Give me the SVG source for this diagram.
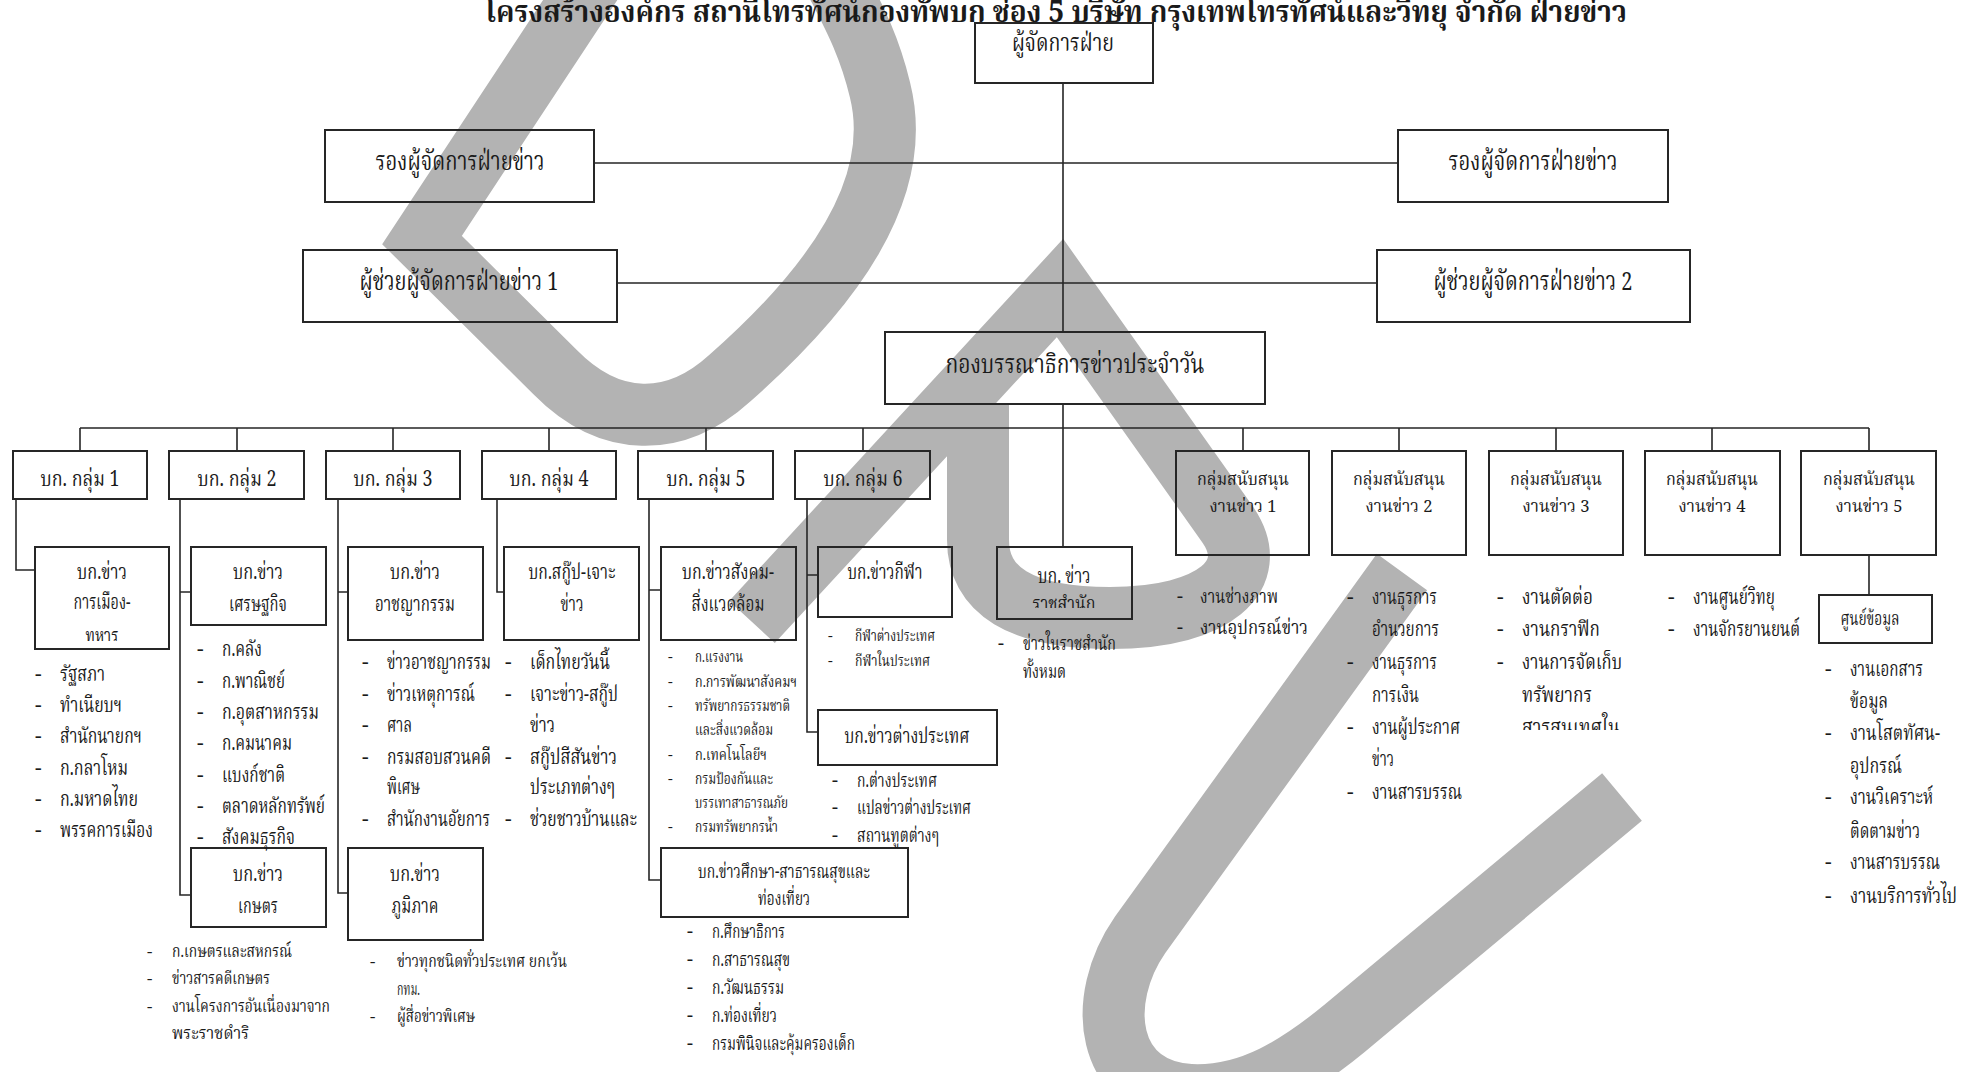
<svg xmlns="http://www.w3.org/2000/svg" width="1977" height="1072" viewBox="0 0 1977 1072">
<style>
.t{font-family:"Noto Serif Thai","Noto Sans Thai","Liberation Serif","DejaVu Serif",serif;fill:#1a1a1a}
.c{text-anchor:middle}
.b{font-weight:bold}
.bx{fill:none;stroke:#262626;stroke-width:2}
.ln{fill:none;stroke:#262626;stroke-width:1.6}
.wm{fill:none;stroke:#b3b3b3;stroke-width:62;stroke-linejoin:miter;stroke-miterlimit:10;stroke-linecap:butt}
.s26{font-size:26px}.s24{font-size:24px}.s21{font-size:21px}.s19{font-size:19px}.s17{font-size:17px}.s15{font-size:15px}
</style>
<defs>
<clipPath id="cpA"><rect x="0" y="0" width="400" height="641"/></clipPath>
<clipPath id="cpB"><rect x="900" y="0" width="400" height="608"/></clipPath>
<clipPath id="cpC"><rect x="1400" y="0" width="400" height="730"/></clipPath>
</defs>
<rect x="0" y="0" width="1977" height="1072" fill="#ffffff"/>
<g id="watermark">
<path class="wm" d="M600,-30 L422,240 L555,372 C610,428 675,428 730,378 C830,290 905,190 880,90 C868,40 850,10 830,-30"/>
<path class="wm" d="M752,622 L1060,288 L1228,525 C1262,575 1215,618 1110,618 C1020,618 978,590 978,540 L978,405"/>
<path class="wm" d="M1402,572 L1140,935 C1095,1000 1105,1090 1190,1095 C1250,1098 1300,1065 1345,1028 L1622,797"/>
</g>
<g id="title"><text class="t c b" x="1056" y="22" font-size="30" textLength="1142" lengthAdjust="spacingAndGlyphs">โครงสร้างองค์กร สถานีโทรทัศน์กองทัพบก ช่อง 5 บริษัท กรุงเทพโทรทัศน์และวิทยุ  จำกัด ฝ่ายข่าว</text></g>
<g id="connectors">
<path class="ln" d="M1063,83 V332 M1063,404 V547 M594,163 H1398 M617,283 H1377 M80,428 H1869"/>
<path class="ln" d="M80,428 V451 M237,428 V451 M393,428 V451 M549,428 V451 M706,428 V451 M863,428 V451 M1243,428 V451 M1399,428 V451 M1556,428 V451 M1712,428 V451 M1869,428 V451"/>
<path class="ln" d="M16,499 V570 H35 M180,499 V895 H191 M180,592 H191 M338,499 V893 H348 M338,592 H348 M497,499 V592 H504 M649,499 V880 H661 M649,590 H661 M807,499 V732 H818 M807,575 H818 M1869,555 V595"/>
</g>
<g id="n-manager"><rect class="bx" x="975" y="23" width="178" height="60" style="fill:#ffffff"/><text class="t c s24" x="1063" y="51" textLength="102" lengthAdjust="spacingAndGlyphs">ผู้จัดการฝ่าย</text></g>
<g id="n-deputy1"><rect class="bx" x="325" y="130" width="269" height="72"/><text class="t c s26" x="460" y="170" textLength="169" lengthAdjust="spacingAndGlyphs">รองผู้จัดการฝ่ายข่าว</text></g>
<g id="n-deputy2"><rect class="bx" x="1398" y="130" width="270" height="72"/><text class="t c s26" x="1533" y="170" textLength="169" lengthAdjust="spacingAndGlyphs">รองผู้จัดการฝ่ายข่าว</text></g>
<g id="n-asst1"><rect class="bx" x="303" y="250" width="314" height="72"/><text class="t c s26" x="459" y="290" textLength="199" lengthAdjust="spacingAndGlyphs">ผู้ช่วยผู้จัดการฝ่ายข่าว 1</text></g>
<g id="n-asst2"><rect class="bx" x="1377" y="250" width="313" height="72"/><text class="t c s26" x="1533" y="290" textLength="199" lengthAdjust="spacingAndGlyphs">ผู้ช่วยผู้จัดการฝ่ายข่าว 2</text></g>
<g id="n-editorial"><rect class="bx" x="885" y="332" width="380" height="72"/><text class="t c s26" x="1075" y="373" textLength="259" lengthAdjust="spacingAndGlyphs">กองบรรณาธิการข่าวประจำวัน</text></g>
<g id="n-g1"><rect class="bx" x="13" y="451" width="134" height="48"/><text class="t c s21" x="80" y="486" textLength="79" lengthAdjust="spacingAndGlyphs">บก. กลุ่ม 1</text></g>
<g id="n-g2"><rect class="bx" x="169" y="451" width="135" height="48"/><text class="t c s21" x="237" y="486" textLength="79" lengthAdjust="spacingAndGlyphs">บก. กลุ่ม 2</text></g>
<g id="n-g3"><rect class="bx" x="326" y="451" width="134" height="48"/><text class="t c s21" x="393" y="486" textLength="79" lengthAdjust="spacingAndGlyphs">บก. กลุ่ม 3</text></g>
<g id="n-g4"><rect class="bx" x="482" y="451" width="134" height="48"/><text class="t c s21" x="549" y="486" textLength="79" lengthAdjust="spacingAndGlyphs">บก. กลุ่ม 4</text></g>
<g id="n-g5"><rect class="bx" x="638" y="451" width="135" height="48"/><text class="t c s21" x="706" y="486" textLength="79" lengthAdjust="spacingAndGlyphs">บก. กลุ่ม 5</text></g>
<g id="n-g6"><rect class="bx" x="795" y="451" width="135" height="48"/><text class="t c s21" x="863" y="486" textLength="79" lengthAdjust="spacingAndGlyphs">บก. กลุ่ม 6</text></g>
<g id="n-s1"><rect class="bx" x="1176" y="451" width="133" height="104"/><text class="t c s17" x="1243" y="485" textLength="92" lengthAdjust="spacingAndGlyphs">กลุ่มสนับสนุน</text><text class="t c s17" x="1243" y="512" textLength="67" lengthAdjust="spacingAndGlyphs">งานข่าว 1</text></g>
<g id="n-s2"><rect class="bx" x="1332" y="451" width="134" height="104"/><text class="t c s17" x="1399" y="485" textLength="92" lengthAdjust="spacingAndGlyphs">กลุ่มสนับสนุน</text><text class="t c s17" x="1399" y="512" textLength="67" lengthAdjust="spacingAndGlyphs">งานข่าว 2</text></g>
<g id="n-s3"><rect class="bx" x="1489" y="451" width="134" height="104"/><text class="t c s17" x="1556" y="485" textLength="92" lengthAdjust="spacingAndGlyphs">กลุ่มสนับสนุน</text><text class="t c s17" x="1556" y="512" textLength="67" lengthAdjust="spacingAndGlyphs">งานข่าว 3</text></g>
<g id="n-s4"><rect class="bx" x="1645" y="451" width="135" height="104"/><text class="t c s17" x="1712" y="485" textLength="92" lengthAdjust="spacingAndGlyphs">กลุ่มสนับสนุน</text><text class="t c s17" x="1712" y="512" textLength="67" lengthAdjust="spacingAndGlyphs">งานข่าว 4</text></g>
<g id="n-s5"><rect class="bx" x="1801" y="451" width="135" height="104"/><text class="t c s17" x="1869" y="485" textLength="92" lengthAdjust="spacingAndGlyphs">กลุ่มสนับสนุน</text><text class="t c s17" x="1869" y="512" textLength="67" lengthAdjust="spacingAndGlyphs">งานข่าว 5</text></g>
<g id="n-politics"><rect class="bx" x="35" y="547" width="134" height="102"/><text class="t c s21" x="102" y="579" textLength="50" lengthAdjust="spacingAndGlyphs">บก.ข่าว</text><text class="t c s21" x="102" y="609" textLength="57" lengthAdjust="spacingAndGlyphs">การเมือง-</text><text class="t c s21" x="102" y="643" textLength="33" lengthAdjust="spacingAndGlyphs" clip-path="url(#cpA)">ทหาร</text></g>
<g id="n-economy"><rect class="bx" x="191" y="547" width="135" height="78"/><text class="t c s21" x="258" y="579" textLength="50" lengthAdjust="spacingAndGlyphs">บก.ข่าว</text><text class="t c s21" x="258" y="611" textLength="58" lengthAdjust="spacingAndGlyphs">เศรษฐกิจ</text></g>
<g id="n-agri"><rect class="bx" x="191" y="848" width="135" height="79"/><text class="t c s21" x="258" y="881" textLength="50" lengthAdjust="spacingAndGlyphs">บก.ข่าว</text><text class="t c s21" x="258" y="913" textLength="40" lengthAdjust="spacingAndGlyphs">เกษตร</text></g>
<g id="n-crime"><rect class="bx" x="348" y="547" width="135" height="93"/><text class="t c s21" x="415" y="579" textLength="50" lengthAdjust="spacingAndGlyphs">บก.ข่าว</text><text class="t c s21" x="415" y="611" textLength="80" lengthAdjust="spacingAndGlyphs">อาชญากรรม</text></g>
<g id="n-scoop"><rect class="bx" x="504" y="547" width="135" height="93"/><text class="t c s21" x="572" y="579" textLength="87" lengthAdjust="spacingAndGlyphs">บก.สกู๊ป-เจาะ</text><text class="t c s21" x="572" y="611" textLength="23" lengthAdjust="spacingAndGlyphs">ข่าว</text></g>
<g id="n-region"><rect class="bx" x="348" y="848" width="135" height="92"/><text class="t c s21" x="415" y="881" textLength="50" lengthAdjust="spacingAndGlyphs">บก.ข่าว</text><text class="t c s21" x="415" y="913" textLength="47" lengthAdjust="spacingAndGlyphs">ภูมิภาค</text></g>
<g id="n-social"><rect class="bx" x="661" y="547" width="135" height="93"/><text class="t c s21" x="728" y="579" textLength="92" lengthAdjust="spacingAndGlyphs">บก.ข่าวสังคม-</text><text class="t c s21" x="728" y="611" textLength="73" lengthAdjust="spacingAndGlyphs">สิ่งแวดล้อม</text></g>
<g id="n-edu"><rect class="bx" x="661" y="848" width="247" height="69"/><text class="t c s19" x="784" y="878" textLength="172" lengthAdjust="spacingAndGlyphs">บก.ข่าวศึกษา-สาธารณสุขและ</text><text class="t c s19" x="784" y="905" textLength="52" lengthAdjust="spacingAndGlyphs">ท่องเที่ยว</text></g>
<g id="n-sport"><rect class="bx" x="818" y="547" width="134" height="70"/><text class="t c s21" x="885" y="579" textLength="75" lengthAdjust="spacingAndGlyphs">บก.ข่าวกีฬา</text></g>
<g id="n-foreign"><rect class="bx" x="818" y="710" width="179" height="55"/><text class="t c s21" x="907" y="743" textLength="125" lengthAdjust="spacingAndGlyphs">บก.ข่าวต่างประเทศ</text></g>
<g id="n-royal"><rect class="bx" x="997" y="547" width="135" height="72"/><text class="t c s21" x="1064" y="583" textLength="53" lengthAdjust="spacingAndGlyphs">บก. ข่าว</text><text class="t c s19" x="1064" y="610" textLength="63" lengthAdjust="spacingAndGlyphs" clip-path="url(#cpB)">ราชสำนัก</text></g>
<g id="n-data"><rect class="bx" x="1819" y="595" width="113" height="48"/><text class="t c s19" x="1870" y="625" textLength="59" lengthAdjust="spacingAndGlyphs">ศูนย์ข้อมูล</text></g>
<g id="lists">
<g class="t s21">
<text x="35" y="681">-</text><text x="60" y="681" textLength="45" lengthAdjust="spacingAndGlyphs">รัฐสภา</text>
<text x="35" y="712">-</text><text x="60" y="712" textLength="62" lengthAdjust="spacingAndGlyphs">ทำเนียบฯ</text>
<text x="35" y="743">-</text><text x="60" y="743" textLength="82" lengthAdjust="spacingAndGlyphs">สำนักนายกฯ</text>
<text x="35" y="775">-</text><text x="60" y="775" textLength="68" lengthAdjust="spacingAndGlyphs">ก.กลาโหม</text>
<text x="35" y="806">-</text><text x="60" y="806" textLength="78" lengthAdjust="spacingAndGlyphs">ก.มหาดไทย</text>
<text x="35" y="837">-</text><text x="60" y="837" textLength="93" lengthAdjust="spacingAndGlyphs">พรรคการเมือง</text>
<text x="197" y="656">-</text><text x="222" y="656" textLength="40" lengthAdjust="spacingAndGlyphs">ก.คลัง</text>
<text x="197" y="688">-</text><text x="222" y="688" textLength="63" lengthAdjust="spacingAndGlyphs">ก.พาณิชย์</text>
<text x="197" y="719">-</text><text x="222" y="719" textLength="97" lengthAdjust="spacingAndGlyphs">ก.อุตสาหกรรม</text>
<text x="197" y="750">-</text><text x="222" y="750" textLength="70" lengthAdjust="spacingAndGlyphs">ก.คมนาคม</text>
<text x="197" y="782">-</text><text x="222" y="782" textLength="63" lengthAdjust="spacingAndGlyphs">แบงก์ชาติ</text>
<text x="197" y="813">-</text><text x="222" y="813" textLength="103" lengthAdjust="spacingAndGlyphs">ตลาดหลักทรัพย์</text>
<text x="197" y="844">-</text><text x="222" y="844" textLength="73" lengthAdjust="spacingAndGlyphs">สังคมธุรกิจ</text>
<text x="362" y="669">-</text><text x="387" y="669" textLength="104" lengthAdjust="spacingAndGlyphs">ข่าวอาชญากรรม</text>
<text x="362" y="701">-</text><text x="387" y="701" textLength="88" lengthAdjust="spacingAndGlyphs">ข่าวเหตุการณ์</text>
<text x="362" y="732">-</text><text x="387" y="732" textLength="25" lengthAdjust="spacingAndGlyphs">ศาล</text>
<text x="362" y="764">-</text><text x="387" y="764" textLength="104" lengthAdjust="spacingAndGlyphs">กรมสอบสวนคดี</text>
<text x="387" y="794" textLength="33" lengthAdjust="spacingAndGlyphs">พิเศษ</text>
<text x="362" y="826">-</text><text x="387" y="826" textLength="103" lengthAdjust="spacingAndGlyphs">สำนักงานอัยการ</text>
<text x="505" y="669">-</text><text x="530" y="669" textLength="80" lengthAdjust="spacingAndGlyphs">เด็กไทยวันนี้</text>
<text x="505" y="701">-</text><text x="530" y="701" textLength="88" lengthAdjust="spacingAndGlyphs">เจาะข่าว-สกู๊ป</text>
<text x="530" y="732" textLength="25" lengthAdjust="spacingAndGlyphs">ข่าว</text>
<text x="505" y="764">-</text><text x="530" y="764" textLength="87" lengthAdjust="spacingAndGlyphs">สกู๊ปสีสันข่าว</text>
<text x="530" y="794" textLength="85" lengthAdjust="spacingAndGlyphs">ประเภทต่างๆ</text>
<text x="505" y="826">-</text><text x="530" y="826" textLength="107" lengthAdjust="spacingAndGlyphs">ช่วยชาวบ้านและ</text>
<text x="1347" y="604">-</text><text x="1372" y="604" textLength="65" lengthAdjust="spacingAndGlyphs">งานธุรการ</text>
<text x="1372" y="636" textLength="67" lengthAdjust="spacingAndGlyphs">อำนวยการ</text>
<text x="1347" y="669">-</text><text x="1372" y="669" textLength="65" lengthAdjust="spacingAndGlyphs">งานธุรการ</text>
<text x="1372" y="702" textLength="47" lengthAdjust="spacingAndGlyphs">การเงิน</text>
<text x="1347" y="734">-</text><text x="1372" y="734" textLength="88" lengthAdjust="spacingAndGlyphs">งานผู้ประกาศ</text>
<text x="1372" y="766" textLength="22" lengthAdjust="spacingAndGlyphs">ข่าว</text>
<text x="1347" y="799">-</text><text x="1372" y="799" textLength="90" lengthAdjust="spacingAndGlyphs">งานสารบรรณ</text>
<text x="1497" y="604">-</text><text x="1522" y="604" textLength="71" lengthAdjust="spacingAndGlyphs">งานตัดต่อ</text>
<text x="1497" y="636">-</text><text x="1522" y="636" textLength="78" lengthAdjust="spacingAndGlyphs">งานกราฟิก</text>
<text x="1497" y="669">-</text><text x="1522" y="669" textLength="100" lengthAdjust="spacingAndGlyphs">งานการจัดเก็บ</text>
<text x="1522" y="702" textLength="70" lengthAdjust="spacingAndGlyphs">ทรัพยากร</text>
<text x="1522" y="734" textLength="98" lengthAdjust="spacingAndGlyphs" clip-path="url(#cpC)">สารสนเทศใน</text>
<text x="1668" y="604">-</text><text x="1693" y="604" textLength="82" lengthAdjust="spacingAndGlyphs">งานศูนย์วิทยุ</text>
<text x="1668" y="636">-</text><text x="1693" y="636" textLength="107" lengthAdjust="spacingAndGlyphs">งานจักรยานยนต์</text>
<text x="1825" y="676">-</text><text x="1850" y="676" textLength="73" lengthAdjust="spacingAndGlyphs">งานเอกสาร</text>
<text x="1850" y="708" textLength="38" lengthAdjust="spacingAndGlyphs">ข้อมูล</text>
<text x="1825" y="740">-</text><text x="1850" y="740" textLength="90" lengthAdjust="spacingAndGlyphs">งานโสตทัศน-</text>
<text x="1850" y="773" textLength="52" lengthAdjust="spacingAndGlyphs">อุปกรณ์</text>
<text x="1825" y="804">-</text><text x="1850" y="804" textLength="83" lengthAdjust="spacingAndGlyphs">งานวิเคราะห์</text>
<text x="1850" y="838" textLength="70" lengthAdjust="spacingAndGlyphs">ติดตามข่าว</text>
<text x="1825" y="869">-</text><text x="1850" y="869" textLength="90" lengthAdjust="spacingAndGlyphs">งานสารบรรณ</text>
<text x="1825" y="903">-</text><text x="1850" y="903" textLength="107" lengthAdjust="spacingAndGlyphs">งานบริการทั่วไป</text>
</g>
<g class="t s19">
<text x="832" y="787">-</text><text x="857" y="787" textLength="80" lengthAdjust="spacingAndGlyphs">ก.ต่างประเทศ</text>
<text x="832" y="814">-</text><text x="857" y="814" textLength="114" lengthAdjust="spacingAndGlyphs">แปลข่าวต่างประเทศ</text>
<text x="832" y="842">-</text><text x="857" y="842" textLength="82" lengthAdjust="spacingAndGlyphs">สถานทูตต่างๆ</text>
<text x="687" y="938">-</text><text x="712" y="938" textLength="73" lengthAdjust="spacingAndGlyphs">ก.ศึกษาธิการ</text>
<text x="687" y="966">-</text><text x="712" y="966" textLength="78" lengthAdjust="spacingAndGlyphs">ก.สาธารณสุข</text>
<text x="687" y="994">-</text><text x="712" y="994" textLength="72" lengthAdjust="spacingAndGlyphs">ก.วัฒนธรรม</text>
<text x="687" y="1022">-</text><text x="712" y="1022" textLength="65" lengthAdjust="spacingAndGlyphs">ก.ท่องเที่ยว</text>
<text x="687" y="1050">-</text><text x="712" y="1050" textLength="143" lengthAdjust="spacingAndGlyphs">กรมพินิจและคุ้มครองเด็ก</text>
<text x="998" y="650">-</text><text x="1023" y="650" textLength="93" lengthAdjust="spacingAndGlyphs">ข่าวในราชสำนัก</text>
<text x="1023" y="678" textLength="43" lengthAdjust="spacingAndGlyphs">ทั้งหมด</text>
<text x="1177" y="603">-</text><text x="1200" y="603" textLength="78" lengthAdjust="spacingAndGlyphs">งานช่างภาพ</text>
<text x="1177" y="634">-</text><text x="1200" y="634" textLength="108" lengthAdjust="spacingAndGlyphs">งานอุปกรณ์ข่าว</text>
</g>
<g class="t s17">
<text x="147" y="957">-</text><text x="172" y="957" textLength="120" lengthAdjust="spacingAndGlyphs">ก.เกษตรและสหกรณ์</text>
<text x="147" y="984">-</text><text x="172" y="984" textLength="98" lengthAdjust="spacingAndGlyphs">ข่าวสารคดีเกษตร</text>
<text x="147" y="1012">-</text><text x="172" y="1012" textLength="158" lengthAdjust="spacingAndGlyphs">งานโครงการอันเนื่องมาจาก</text>
<text x="172" y="1039" textLength="77" lengthAdjust="spacingAndGlyphs">พระราชดำริ</text>
<text x="370" y="967">-</text><text x="397" y="967" textLength="170" lengthAdjust="spacingAndGlyphs">ข่าวทุกชนิดทั่วประเทศ ยกเว้น</text>
<text x="397" y="995" textLength="23" lengthAdjust="spacingAndGlyphs">กทม.</text>
<text x="370" y="1022">-</text><text x="397" y="1022" textLength="78" lengthAdjust="spacingAndGlyphs">ผู้สื่อข่าวพิเศษ</text>
</g>
<g class="t s15">
<text x="668" y="662">-</text><text x="695" y="662" textLength="48" lengthAdjust="spacingAndGlyphs">ก.แรงงาน</text>
<text x="668" y="687">-</text><text x="695" y="687" textLength="102" lengthAdjust="spacingAndGlyphs">ก.การพัฒนาสังคมฯ</text>
<text x="668" y="711">-</text><text x="695" y="711" textLength="95" lengthAdjust="spacingAndGlyphs">ทรัพยากรธรรมชาติ</text>
<text x="695" y="735" textLength="78" lengthAdjust="spacingAndGlyphs">และสิ่งแวดล้อม</text>
<text x="668" y="760">-</text><text x="695" y="760" textLength="72" lengthAdjust="spacingAndGlyphs">ก.เทคโนโลยีฯ</text>
<text x="668" y="784">-</text><text x="695" y="784" textLength="78" lengthAdjust="spacingAndGlyphs">กรมป้องกันและ</text>
<text x="695" y="808" textLength="93" lengthAdjust="spacingAndGlyphs">บรรเทาสาธารณภัย</text>
<text x="668" y="832">-</text><text x="695" y="832" textLength="83" lengthAdjust="spacingAndGlyphs">กรมทรัพยากรน้ำ</text>
<text x="828" y="641">-</text><text x="855" y="641" textLength="80" lengthAdjust="spacingAndGlyphs">กีฬาต่างประเทศ</text>
<text x="828" y="666">-</text><text x="855" y="666" textLength="75" lengthAdjust="spacingAndGlyphs">กีฬาในประเทศ</text>
</g>
</g>
</svg>
